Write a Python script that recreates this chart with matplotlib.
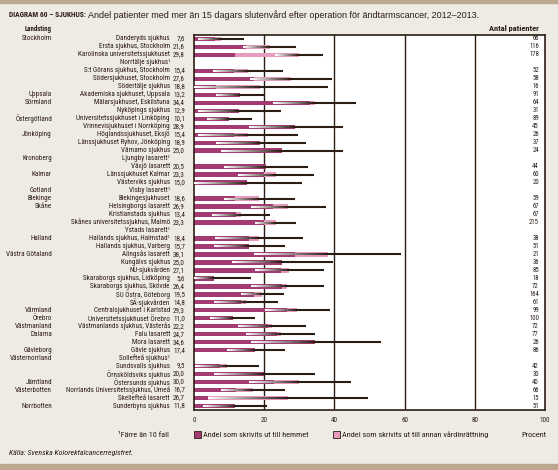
"""
Diagram 60 - sjukhus: andel patienter med mer än 15 dagars slutenvård.
"""
import matplotlib

matplotlib.use("Agg")
import matplotlib.pyplot as plt
import matplotlib.transforms as mtransforms
import numpy as np
from matplotlib import font_manager as fm
from matplotlib.collections import LineCollection
from matplotlib.patches import Rectangle
from matplotlib.textpath import TextPath

# ---- data --------------------------------------------------------------
landsting = [
    "Stockholm", "", "", "", "", "", "", "Uppsala", "Sörmland", "",
    "Östergötland", "", "Jönköping", "", "", "Kronoberg", "", "Kalmar", "",
    "Gotland", "Blekinge", "Skåne", "", "", "", "Halland", "",
    "Västra Götaland", "", "", "", "", "", "", "Värmland", "Örebro",
    "Västmanland", "Dalarna", "", "Gävleborg", "Västernorrland", "", "",
    "Jämtland", "Västerbotten", "", "Norrbotten",
]
sjukhus = [
    "Danderyds sjukhus", "Ersta sjukhus, Stockholm",
    "Karolinska universitetssjukhuset", "Norrtälje sjukhus¹",
    "S:t Görans sjukhus, Stockholm", "Södersjukhuset, Stockholm",
    "Södertälje sjukhus", "Akademiska sjukhuset, Uppsala",
    "Mälarsjukhuset, Eskilstuna", "Nyköpings sjukhus",
    "Universitetssjukhuset i Linköping", "Vrinnevisjukhuset i Norrköping",
    "Höglandssjukhuset, Eksjö", "Länssjukhuset Ryhov, Jönköping",
    "Värnamo sjukhus", "Ljungby lasarett¹", "Växjö lasarett",
    "Länssjukhuset Kalmar", "Västerviks sjukhus", "Visby lasarett¹",
    "Blekingesjukhuset", "Helsingborgs lasarett", "Kristianstads sjukhus",
    "Skånes universitetssjukhus, Malmö", "Ystads lasarett¹",
    "Hallands sjukhus, Halmstad¹", "Hallands sjukhus, Varberg",
    "Alingsås lasarett", "Kungälvs sjukhus", "NU-sjukvården",
    "Skaraborgs sjukhus, Lidköping", "Skaraborgs sjukhus, Skövde",
    "SU Östra, Göteborg", "SÄ-sjukvården", "Centralsjukhuset i Karlstad",
    "Universitetssjukhuset Örebro", "Västmanlands sjukhus, Västerås",
    "Falu lasarett", "Mora lasarett", "Gävle sjukhus", "Sollefteå sjukhus¹",
    "Sundsvalls sjukhus", "Örnsköldsviks sjukhus", "Östersunds sjukhus",
    "Norrlands Universitetssjukhus, Umeå", "Skellefteå lasarett",
    "Sunderbyns sjukhus",
]
nan = np.nan
andel_totalt = [
    7.6, 21.6, 29.8, nan, 15.4, 27.6, 18.8, 13.2, 34.4, 12.9,
    10.1, 28.9, 15.4, 18.9, 25.0, nan, 20.5, 23.3, 15.0, nan,
    18.6, 26.9, 13.4, 23.3, nan, 18.4, 15.7, 38.1, 25.0, 27.1,
    5.6, 26.4, 19.5, 14.8, 29.3, 11.0, 22.2, 24.7, 34.6, 17.4,
    nan, 9.5, 20.0, 30.0, 16.7, 26.7, 11.8,
]
andel_hemmet = [
    6.1, 14.7, 11.8, nan, 11.5, 17.2, 6.3, 13.2, 33.0, 12.9,
    10.1, 28.9, 11.5, 18.9, 25.0, nan, 20.5, 20.0, 15.0, nan,
    11.8, 22.4, 12.0, 20.0, nan, 15.8, 15.7, 28.7, 25.0, 24.7,
    5.6, 25.0, 17.2, 13.3, 26.4, 11.0, 21.0, 23.6, 34.6, 17.4,
    nan, 7.3, 20.0, 22.7, 12.1, 4.1, 11.8,
]
ci_lagre = [
    1.0, 14.0, 23.2, nan, 5.3, 16.0, 0.0, 6.2, 22.6, 1.0,
    3.6, 15.7, 1.2, 6.2, 7.6, nan, 8.5, 12.5, 0.0, nan,
    8.5, 16.2, 5.0, 17.4, nan, 5.9, 5.6, 17.1, 10.8, 17.4,
    0.0, 16.2, 13.4, 5.6, 20.3, 4.7, 12.5, 14.8, 16.2, 9.3,
    nan, 0.4, 5.6, 15.7, 7.6, 4.1, 2.7,
]
ci_ovre = [
    14.2, 29.2, 36.8, nan, 25.3, 39.3, 38.1, 20.0, 46.1, 24.7,
    16.5, 42.5, 29.5, 31.8, 42.4, nan, 32.4, 34.1, 30.7, nan,
    28.8, 37.7, 21.6, 29.1, nan, 31.0, 25.9, 59.1, 39.5, 37.0,
    16.3, 37.0, 25.7, 23.9, 38.7, 17.4, 32.0, 34.6, 53.3, 25.8,
    nan, 18.6, 34.6, 44.6, 26.0, 49.5, 20.9,
]
antal = [
    "66", "116", "178", "", "52", "58", "16", "91", "64", "31",
    "89", "45", "26", "37", "24", "", "44", "60", "20", "",
    "59", "67", "67", "215", "", "38", "51", "21", "36", "85",
    "18", "72", "164", "61", "99", "100", "72", "77", "26", "86",
    "", "42", "30", "40", "66", "15", "51",
]
xticks = [0, 20, 40, 60, 80, 100]

# ---- style ---------------------------------------------------------------
BG = "#eeeae4"
TAN = "#bba88f"
INK = "#2b1d14"
MAGENTA = "#a43a72"
PINK = "#e79bbf"


def narrowest_font():
    """Pick the narrowest upright regular sans face among the installed ones."""
    ok = ("DejaVu Sans", "Liberation Sans", "Roboto", "Open Sans", "Lato",
          "Inter", "Noto Sans")
    best = None
    for f in fm.fontManager.ttflist:
        if not f.name.startswith(ok) or "Mono" in f.name or "CJK" in f.name:
            continue
        if f.style != "normal" or f.weight not in (400, "normal", "regular"):
            continue
        try:
            w = TextPath((0, 0), "Norrlands Universitetssjukhus, Umeå", size=10,
                         prop=fm.FontProperties(fname=f.fname)).get_extents().width
        except Exception:
            continue
        if best is None or w < best[0]:
            best = (w, f)
    return best[1]


face = narrowest_font()
REG = fm.FontProperties(fname=face.fname)
BOLD = fm.FontProperties(family=face.name, stretch=face.stretch, weight="bold")

W, H = 558, 470
fig = plt.figure(figsize=(W / 100, H / 100), dpi=100, facecolor=BG)
renderer = fig.canvas.get_renderer()


def fit(t, width_px):
    """Scale a text's font size so it spans width_px pixels."""
    w = t.get_window_extent(renderer).width
    t.set_fontsize(t.get_fontsize() * width_px / w)
    return t.get_fontsize()


def fx(px):
    return px / W


def fy(py):
    return 1 - py / H


# tan bands top and bottom
fig.patches.append(Rectangle((0, fy(3)), 1, 3 / H, transform=fig.transFigure,
                             color=TAN, zorder=0))
fig.patches.append(Rectangle((0, 0), 1, 6 / H, transform=fig.transFigure,
                             color=TAN, zorder=0))

ax = fig.add_axes([fx(194), fy(410), fx(545) - fx(194), (410 - 35) / H])
ax.set_facecolor("white")
n = len(sjukhus)
y = np.arange(n)
ax.set_xlim(0, 100)
ax.set_ylim(n - 0.5, -0.5)

tot = np.array(andel_totalt)
hem = np.array(andel_hemmet)
ax.barh(y, hem, height=0.55, color=MAGENTA, zorder=2)
ax.barh(y, tot - hem, left=hem, height=0.55, color=PINK, zorder=2)

# confidence intervals: white->dark gradient up to the estimate, then dark
ink_rgb = np.array(matplotlib.colors.to_rgb(INK))
segs, cols = [], []
for i in range(n):
    lo, hi, est = ci_lagre[i], ci_ovre[i], andel_totalt[i]
    if np.isnan(lo):
        continue
    xs = np.linspace(lo, est, 30)
    for k in range(len(xs) - 1):
        t = k / (len(xs) - 2)
        segs.append([(xs[k], i), (xs[k + 1], i)])
        cols.append((1 - t) * np.ones(3) + t * ink_rgb)
    segs.append([(est, i), (hi, i)])
    cols.append(ink_rgb)
ax.add_collection(LineCollection(segs, colors=cols, linewidths=1.5,
                                 capstyle="butt", zorder=3))

for gx in xticks[1:-1]:
    ax.axvline(gx, color=INK, lw=1.0, zorder=1)
for sp in ax.spines.values():
    sp.set_color(INK)
    sp.set_linewidth(1.2)
ax.set_yticks([])
ax.set_xticks(xticks)
ax.set_xticklabels([str(t) for t in xticks], color=INK, fontproperties=REG)
ax.tick_params(axis="x", length=0, pad=5)

# row labels, sized so the longest hospital name spans its column
tr = mtransforms.blended_transform_factory(fig.transFigure, ax.transData)
probe = fig.text(0, 0, max(sjukhus, key=len), fontproperties=REG, fontsize=6)
row_fs = min(fit(probe, 103), 6.4)
probe.remove()
txt = dict(fontproperties=REG, color=INK, va="center", transform=tr)
for i in range(n):
    if landsting[i]:
        ax.text(fx(52), i, landsting[i], ha="right", fontsize=row_fs, **txt)
    ax.text(fx(170), i, sjukhus[i], ha="right", fontsize=row_fs, **txt)
    if not np.isnan(andel_totalt[i]):
        ax.text(fx(185), i, f"{andel_totalt[i]:.1f}".replace(".", ","),
                ha="right", fontsize=row_fs, **txt)
    if antal[i]:
        ax.text(fx(539), i, antal[i], ha="right", fontsize=row_fs * 0.95, **txt)
for lab in ax.get_xticklabels():
    lab.set_fontsize(row_fs)

hdr = dict(va="center", color=INK, fontproperties=BOLD)
fit(fig.text(fx(52), fy(29), "Landsting", ha="right", **hdr), 27)
fit(fig.text(fx(539), fy(29), "Antal patienter", ha="right", **hdr), 50)

# title
fit(fig.text(fx(9), fy(15), "DIAGRAM 60 – SJUKHUS:", ha="left", **hdr), 77)
fit(fig.text(fx(88), fy(15),
             "Andel patienter med mer än 15 dagars slutenvård efter operation "
             "för ändtarmscancer, 2012–2013.",
             ha="left", va="center", color=INK,
             family=["Liberation Sans", "DejaVu Sans"]), 394)

# legend
leg = dict(va="center", color=INK, fontproperties=REG)
fit(fig.text(fx(169), fy(435), "¹Färre än 10 fall", ha="right", **leg), 51)
for x0, c, label, wpx in [
        (194, MAGENTA, "Andel som skrivits ut till hemmet", 105),
        (333, PINK, "Andel som skrivits ut till annan vårdinrättning", 146)]:
    fig.patches.append(Rectangle((fx(x0), fy(438)), 7 / W, 7 / H,
                                 transform=fig.transFigure, facecolor=c,
                                 edgecolor=INK, lw=0.6))
    fit(fig.text(fx(x0 + 9), fy(435), label, ha="left", **leg), wpx)
fit(fig.text(fx(546), fy(435), "Procent", ha="right", **leg), 25)

src = fig.text(fx(9), fy(453), "Källa: Svenska Kolorektalcancerregistret.",
               ha="left", va="center", color=INK, style="italic",
               family=face.name)
fit(src, 123)

fig.savefig("out.png", dpi=100, facecolor=BG)
